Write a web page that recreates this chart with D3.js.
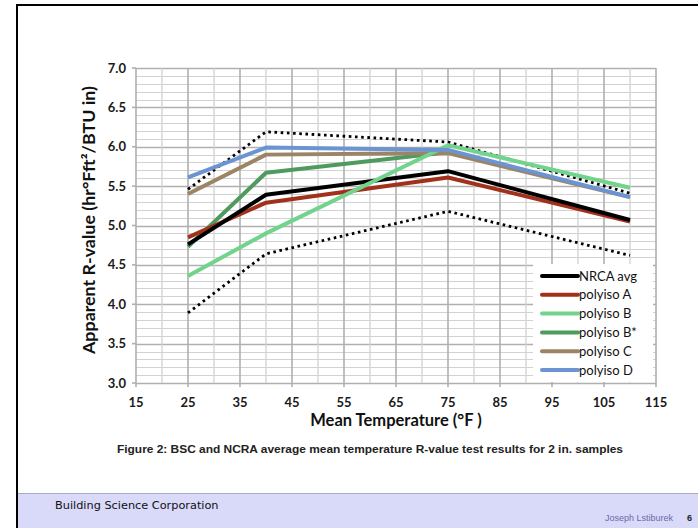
<!DOCTYPE html>
<html><head><meta charset="utf-8">
<script src="https://cdn.jsdelivr.net/npm/d3@7"></script>
<style>html,body{margin:0;padding:0;background:#fff;}svg{display:block;}</style>
</head><body>
<svg id="c" width="698" height="528"></svg>
<script>
const temps = [25, 40, 75, 110];
const nrcaAvg = [4.76, 5.39, 5.69, 5.07];
const polyA = [4.85, 5.29, 5.61, 5.05];
const polyB = [4.36, 4.90, 6.02, 5.48];
const polyBstar = [4.73, 5.67, 5.93];
const polyC = [5.40, 5.90, 5.92, 5.36];
const polyD = [5.61, 5.99, 5.96, 5.36];
const upperBound = [5.46, 6.19, 6.06, 5.41];
const lowerBound = [3.89, 4.64, 5.18, 4.62];
const xTicks = [15, 25, 35, 45, 55, 65, 75, 85, 95, 105, 115];
const yTicks = [3.0, 3.5, 4.0, 4.5, 5.0, 5.5, 6.0, 6.5, 7.0];

const series = [
  {name: "NRCA avg", vals: nrcaAvg, color: "#000000"},
  {name: "polyiso A", vals: polyA, color: "#a2311c"},
  {name: "polyiso B", vals: polyB, color: "#72d38c"},
  {name: "polyiso B*", vals: polyBstar, color: "#4f9a5e"},
  {name: "polyiso C", vals: polyC, color: "#9c8466"},
  {name: "polyiso D", vals: polyD, color: "#6b94d2"}
];

const svg = d3.select("#c");
const L = 136, R = 656, T = 68, B = 383;
const x = d3.scaleLinear().domain([15, 115]).range([L, R]);
const y = d3.scaleLinear().domain([3, 7]).range([B, T]);

// slide frame
svg.append("rect").attr("x", 18).attr("y", 493).attr("width", 680).attr("height", 35).attr("fill", "#d9d9fa");
svg.append("line").attr("x1", 18).attr("x2", 698).attr("y1", 493.5).attr("y2", 493.5).attr("stroke", "#a9a9c9").attr("stroke-width", 1.2);
svg.append("line").attr("x1", 17).attr("x2", 17).attr("y1", 4).attr("y2", 528).attr("stroke", "#000").attr("stroke-width", 2);
svg.append("line").attr("x1", 16).attr("x2", 698).attr("y1", 5).attr("y2", 5).attr("stroke", "#000").attr("stroke-width", 2);

// grid
const g = svg.append("g");
const minorY = d3.range(3.0, 7.0001, 0.1);
const isMajor = d => Math.abs(d * 2 - Math.round(d * 2)) < 1e-6;
g.selectAll(".hy").data(minorY).join("line")
  .attr("x1", L).attr("x2", R)
  .attr("y1", d => Math.round(y(d)) + 0.5).attr("y2", d => Math.round(y(d)) + 0.5)
  .attr("stroke", d => isMajor(d) ? "#b0b0b0" : "#d2d2d2")
  .attr("stroke-width", d => isMajor(d) ? 1.6 : 1.2);
const minorX = d3.range(20, 115, 10);
g.selectAll(".vx").data(minorX).join("line")
  .attr("x1", d => x(d)).attr("x2", d => x(d)).attr("y1", T).attr("y2", B)
  .attr("stroke", "#d2d2d2").attr("stroke-width", 1.3);
g.selectAll(".vX").data(xTicks).join("line")
  .attr("x1", d => x(d)).attr("x2", d => x(d)).attr("y1", T).attr("y2", B + 4)
  .attr("stroke", "#b0b0b0").attr("stroke-width", 1.6);
g.selectAll(".yt").data(yTicks).join("line")
  .attr("x1", L - 4).attr("x2", L).attr("y1", d => y(d)).attr("y2", d => y(d))
  .attr("stroke", "#b0b0b0").attr("stroke-width", 1.6);

// tick labels
const tf = "Lato, 'Open Sans', sans-serif";
svg.append("g").selectAll("text").data(yTicks).join("text")
  .attr("x", L - 10).attr("y", d => y(d) + 4.5)
  .attr("text-anchor", "end").attr("font-family", tf).attr("font-weight", "bold")
  .attr("font-size", 13).attr("fill", "#1a1a1a").text(d => d3.format(".1f")(d));
svg.append("g").selectAll("text").data(xTicks).join("text")
  .attr("x", d => x(d)).attr("y", B + 24)
  .attr("text-anchor", "middle").attr("font-family", tf).attr("font-weight", "bold")
  .attr("font-size", 13).attr("fill", "#1a1a1a").text(d => d);

// axis titles
svg.append("text").attr("x", (L + R) / 2).attr("y", 426).attr("text-anchor", "middle")
  .attr("font-family", tf).attr("font-weight", "bold").attr("font-size", 16.5).attr("fill", "#111")
  .text("Mean Temperature (°F )");
svg.append("text").attr("transform", "translate(95,220) rotate(-90)").attr("text-anchor", "middle")
  .attr("font-family", tf).attr("font-weight", "bold").attr("font-size", 17).attr("fill", "#111")
  .attr("textLength", 268).attr("lengthAdjust", "spacingAndGlyphs")
  .text("Apparent R-value (hr°Fft²/BTU in)");

// lines
const line = d3.line().x((d, i) => x(temps[i])).y(d => y(d));
const lg = svg.append("g").attr("fill", "none");
lg.selectAll(".bound").data([upperBound, lowerBound]).join("path")
  .attr("d", d => line(d)).attr("stroke", "#000").attr("stroke-width", 2.8)
  .attr("stroke-dasharray", "2.6,3.6");
const order = ["polyiso B*", "polyiso C", "polyiso A", "NRCA avg", "polyiso B", "polyiso D"];
order.forEach(n => {
  const s = series.find(t => t.name === n);
  lg.append("path").attr("d", line(s.vals)).attr("stroke", s.color)
    .attr("stroke-width", 4).attr("stroke-linejoin", "round");
});

// legend
const leg = svg.append("g");
leg.append("rect").attr("x", 533).attr("y", 264).attr("width", 120).attr("height", 118).attr("fill", "#fff");
series.forEach((s, i) => {
  const yy = 276 + i * 18.8;
  leg.append("line").attr("x1", 542).attr("x2", 578).attr("y1", yy).attr("y2", yy)
    .attr("stroke", s.color).attr("stroke-width", 4).attr("stroke-linecap", "round");
  leg.append("text").attr("x", 579).attr("y", yy + 4.5).attr("font-family", tf)
    .attr("font-size", 13).attr("fill", "#111").text(s.name);
});

// caption
svg.append("text").attr("x", 370).attr("y", 453).attr("text-anchor", "middle")
  .attr("font-family", "'Liberation Sans', Arial, sans-serif").attr("font-weight", "bold")
  .attr("font-size", 11).attr("fill", "#222")
  .attr("textLength", 506).attr("lengthAdjust", "spacingAndGlyphs")
  .text("Figure 2: BSC and NCRA average mean temperature R-value test results for 2 in. samples");

// footer
svg.append("text").attr("x", 55).attr("y", 509).attr("font-family", "'DejaVu Sans', Verdana, sans-serif")
  .attr("font-size", 11.3).attr("fill", "#111").text("Building Science Corporation");
svg.append("text").attr("x", 673).attr("y", 521).attr("text-anchor", "end")
  .attr("font-family", "'Liberation Sans', Arial, sans-serif")
  .attr("font-size", 9).attr("fill", "#6a6aa6").text("Joseph Lstiburek");
svg.append("text").attr("x", 687).attr("y", 521)
  .attr("font-family", "'Liberation Sans', Arial, sans-serif").attr("font-weight", "bold")
  .attr("font-size", 9).attr("fill", "#222").text("6");
</script>
</body></html>
